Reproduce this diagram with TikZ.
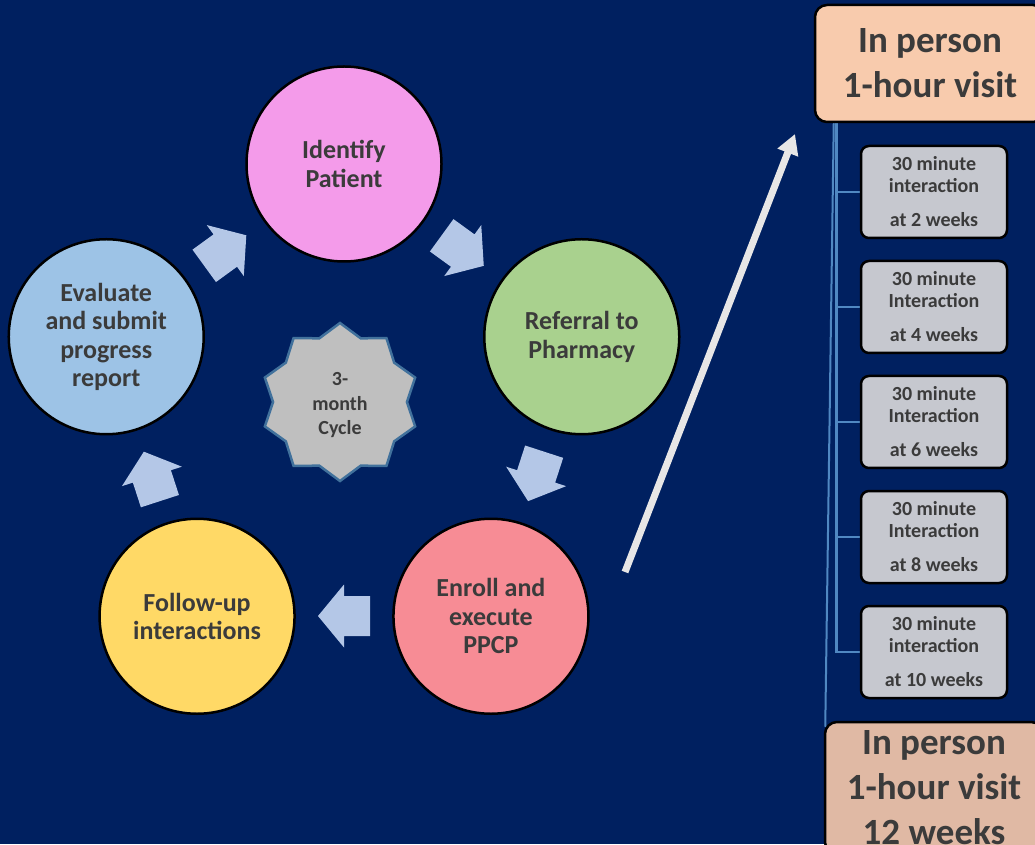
\documentclass[tikz,border=0pt]{standalone}
\usepackage{fontspec}
\setmainfont{Carlito}
\usetikzlibrary{shapes.geometric,positioning,arrows.meta,backgrounds,calc}

\definecolor{navy}{HTML}{002060}
\definecolor{textgray}{HTML}{3B3B3B}
\definecolor{identpink}{HTML}{F49BEA}
\definecolor{referralgreen}{HTML}{A9D18E}
\definecolor{enrollred}{HTML}{F78C95}
\definecolor{followyellow}{HTML}{FFD966}
\definecolor{evalblue}{HTML}{9DC3E6}
\definecolor{cyclegray}{HTML}{BFBFBF}
\definecolor{cycleedge}{HTML}{41719C}
\definecolor{arrowblue}{HTML}{B4C7E7}
\definecolor{arrowwhite}{HTML}{E7E6E6}
\definecolor{intergray}{HTML}{C6C8CF}
\definecolor{visitpeach}{HTML}{F8CBAD}
\definecolor{visitpeachdark}{HTML}{E0B9A4}
\definecolor{treeblue}{HTML}{5088C2}

\tikzset{
  flowarrow/.pic={
    \fill[arrowblue] (-26,-20) -- (0,-20) -- (0,-31.5) -- (26,0)
      -- (0,31.5) -- (0,20) -- (-26,20) -- cycle;
  }
}

\begin{document}
\begin{tikzpicture}[x=1pt,y=1pt,node distance=115pt,on grid,
    stage/.style={circle,draw=black,line width=2.5pt,minimum size=195pt,inner sep=0pt,
      align=center,text=textgray,font=\fontsize{26}{28.5}\selectfont\bfseries},
    cycle/.style={star,star points=10,star point ratio=1.18,minimum size=158pt,inner sep=0pt,
      fill=cyclegray,draw=cycleedge,line width=2.5pt,align=center,text=textgray,
      font=\fontsize{20}{24.5}\selectfont\bfseries},
    interbox/.style={rectangle,rounded corners=8pt,draw=black,line width=2.5pt,fill=intergray,
      minimum width=146pt,minimum height=92pt,align=center,text=textgray,
      font=\fontsize{20}{22}\selectfont\bfseries},
    visitbox/.style={rectangle,rounded corners=12pt,draw=black,line width=2.5pt,
      align=center,text=textgray,font=\fontsize{37}{45}\selectfont\bfseries},
    treeline/.style={draw=treeblue,line width=2.6pt},
    launch/.style={draw=arrowwhite,line width=7pt,-{Triangle[length=20pt,width=21pt]}}]

  \useasboundingbox (0,0) rectangle (1035,844);
  \clip (0,0) rectangle (1035,844);

  % the cycle
  \begin{scope}[shift={(344,430)}]
    \node[stage, fill=identpink] (identify) at (90:250) {Identify\\Patient};
    \node[stage, fill=referralgreen] (referral) at (18:250) {Referral to\\Pharmacy};
    \node[stage, fill=enrollred] (enroll) at (-54:250) {Enroll and\\execute\\PPCP};
    \node[stage, fill=followyellow] (followup) at (-126:250) {Follow-up\\interactions};
    \node[stage, fill=evalblue] (evaluate) at (162:250) {Evaluate\\and submit\\progress\\report};
    \foreach \a in {126,54,-18,-90,198}
      \pic[rotate=\a-90] at (\a:202) {flowarrow};
  \end{scope}
  \node[cycle] (cycle) at (340,442) {\rule{0pt}{20pt}3-\\month\\Cycle};

  % the schedule
  \node[visitbox, fill=visitpeach, minimum width=230pt, minimum height=117pt]
    (firstvisit) at (930,780.5) {In person\\1-hour visit};
  \node[interbox] (int2) at (934,652) {30 minute\\interaction\\[12pt]at 2 weeks};
  \node[interbox, below=of int2] (int4) {30 minute\\Interaction\\[12pt]at 4 weeks};
  \node[interbox, below=of int4] (int6) {30 minute\\Interaction\\[12pt]at 6 weeks};
  \node[interbox, below=of int6] (int8) {30 minute\\Interaction\\[12pt]at 8 weeks};
  \node[interbox, below=of int8] (int10) {30 minute\\interaction\\[12pt]at 10 weeks};
  \node[visitbox, fill=visitpeachdark, minimum width=218pt, minimum height=132pt]
    (finalvisit) at (934,56) {In person\\1-hour visit\\12 weeks};

  \coordinate (launchstart) at (625,272);
  \coordinate (launchend) at (795,710);
  \draw[launch] (launchstart) -- (launchend);

  \begin{scope}[on background layer]
    \fill[navy] (0,0) rectangle (1035,844);
    \foreach \n in {int2,int4,int6,int8,int10}
      \draw[treeline] (firstvisit.south west) ++(23,0) |- (\n.west);
    \draw[treeline, line width=2pt] (firstvisit.south west) ++(20,0)
      -- ($(finalvisit.north west)+(1.5,-6)$);
  \end{scope}
\end{tikzpicture}
\end{document}
